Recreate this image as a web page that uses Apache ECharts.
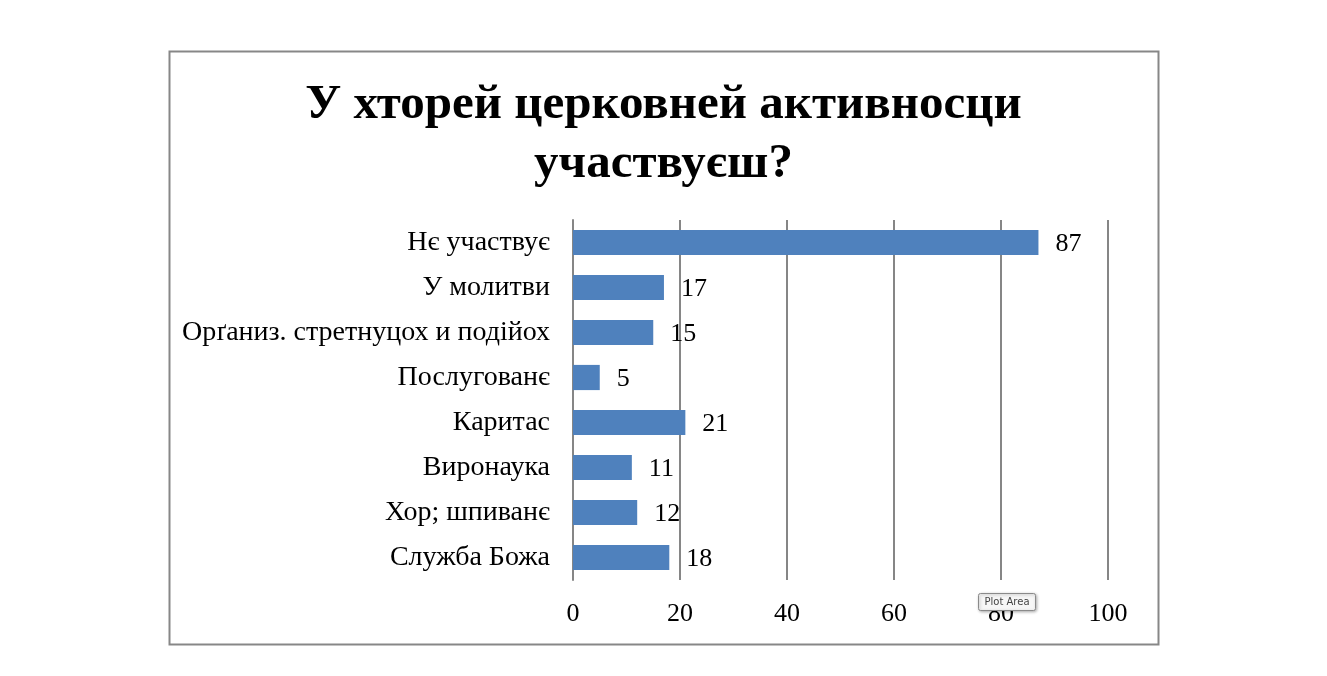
<!DOCTYPE html>
<html>
<head>
<meta charset="utf-8">
<script src="https://cdn.jsdelivr.net/npm/echarts@6/dist/echarts.min.js"></script>
<style>
html,body{margin:0;padding:0;background:#fff;}
#chart{width:1327px;height:676px;}
</style>
</head>
<body>
<div id="chart"></div>
<script>
// категориї (од верху по спод)
var categories = ['Нє участвує', 'У молитви', 'Орґаниз. стретнуцох и подійох', 'Послугованє', 'Каритас', 'Виронаука', 'Хор; шпиванє', 'Служба Божа'];
var values = [87, 17, 15, 5, 21, 11, 12, 18];
var titleText = 'У хторей церковней активносци\nучаствуєш?';

var myChart = echarts.init(document.getElementById('chart'));
var option = {
    backgroundColor: '#ffffff',
    animation: false,
    title: {
        text: titleText,
        left: 'center',
        top: 71,
        textStyle: {
            fontFamily: 'Liberation Serif',
            fontWeight: 'bold',
            fontSize: 49,
            lineHeight: 59,
            color: '#000000'
        }
    },
    graphic: [{
        type: 'rect',
        shape: { x: 169.5, y: 51.5, width: 989, height: 593 },
        style: { fill: 'none', stroke: '#878787', lineWidth: 2 }
    }, {
        type: 'rect',
        z: 100,
        shape: { x: 978.5, y: 593.5, width: 57, height: 17, r: 2 },
        style: { fill: '#f7f7f7', stroke: '#8a8a8a', lineWidth: 1, shadowColor: 'rgba(0,0,0,0.3)', shadowBlur: 3, shadowOffsetX: 1, shadowOffsetY: 1 }
    }, {
        type: 'text',
        z: 101,
        style: { text: 'Plot Area', x: 1007, y: 602, textAlign: 'center', textVerticalAlign: 'middle', fontFamily: 'DejaVu Sans', fontSize: 10, fill: '#444' }
    }],
    grid: {
        left: 573,
        right: 219,
        top: 220,
        bottom: 96,
        containLabel: false
    },
    xAxis: {
        type: 'value',
        min: 0,
        max: 100,
        interval: 20,
        axisLine: { show: false },
        axisTick: { show: false },
        splitLine: { lineStyle: { color: '#868686', width: 2 } },
        axisLabel: {
            margin: 21,
            fontFamily: 'Liberation Serif',
            fontSize: 26,
            color: '#000'
        }
    },
    yAxis: {
        type: 'category',
        inverse: true,
        data: categories,
        axisLine: { show: true, lineStyle: { color: '#868686', width: 2 } },
        axisTick: { show: false },
        axisLabel: {
            margin: 23,
            fontFamily: 'Liberation Serif',
            fontSize: 28,
            color: '#000'
        }
    },
    series: [{
        type: 'bar',
        data: values,
        barCategoryGap: '44%',
        itemStyle: { color: '#4F81BD' },
        label: {
            show: true,
            position: 'right',
            distance: 17,
            offset: [0, 2],
            fontFamily: 'Liberation Serif',
            fontSize: 26,
            color: '#000'
        }
    }]
};
myChart.setOption(option);
</script>
</body>
</html>
